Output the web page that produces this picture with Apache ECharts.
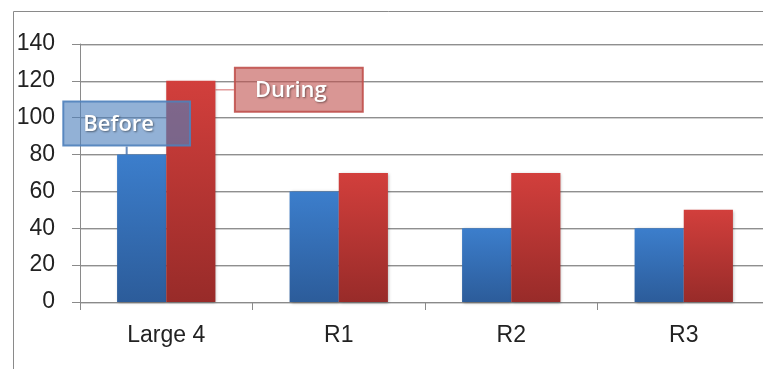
<!DOCTYPE html>
<html>
<head>
<meta charset="utf-8">
<script src="https://cdn.jsdelivr.net/npm/echarts@6/dist/echarts.min.js"></script>
<style>
  html, body { margin: 0; padding: 0; background: #fff; }
  #chart { width: 763px; height: 369px; }
</style>
</head>
<body>
<div id="chart"></div>
<script>
// Categories and values for the two phases
const categories = ['Large 4', 'R1', 'R2', 'R3'];
const beforeValues = [80, 60, 40, 40];
const duringValues = [120, 70, 70, 50];
const yTicks = { min: 0, max: 140, step: 20 };

const chart = echarts.init(document.getElementById('chart'), null, { renderer: 'canvas' });

const axisFont = { fontFamily: 'Liberation Sans, Arial, sans-serif', fontSize: 23, color: '#222' };

function vGrad(top, bottom) {
  return new echarts.graphic.LinearGradient(0, 0, 0, 1, [
    { offset: 0, color: top },
    { offset: 1, color: bottom }
  ]);
}

// Callout label shown on the first bar of each series
function callout(bg, border) {
  return {
    show: true,
    position: 'top',
    formatter: '{a}',
    color: '#fff',
    fontFamily: 'Open Sans, sans-serif',
    fontWeight: 600,
    fontSize: 22,
    lineHeight: 26,
    backgroundColor: bg,
    borderColor: border,
    borderWidth: 1,
    padding: [10, 36, 8, 20],
    textShadowColor: 'rgba(0,0,0,0.45)',
    textShadowBlur: 2,
    textShadowOffsetX: 1,
    textShadowOffsetY: 1
  };
}

const barShadow = {
  shadowBlur: 3,
  shadowColor: 'rgba(0,0,0,0.3)',
  shadowOffsetX: 1,
  shadowOffsetY: 1
};

chart.setOption({
  animation: false,
  graphic: [{
    type: 'rect',
    left: 11,
    top: 9,
    shape: { width: 800, height: 400 },
    style: { fill: 'none', stroke: '#8a8a8a', lineWidth: 1 },
    silent: true,
    z: 0
  }],
  // plot area runs slightly past the right edge of the canvas
  grid: { left: 80, top: 44, width: 690, height: 258, outerBoundsMode: 'none' },
  xAxis: {
    type: 'category',
    data: categories,
    axisLine: { lineStyle: { color: '#8a8a8a' } },
    axisTick: { show: true, length: 8, lineStyle: { color: '#8a8a8a' } },
    axisLabel: Object.assign({ margin: 22 }, axisFont)
  },
  yAxis: {
    type: 'value',
    min: yTicks.min,
    max: yTicks.max,
    interval: yTicks.step,
    axisLine: { show: true, lineStyle: { color: '#8a8a8a' } },
    axisTick: { show: true, length: 8, lineStyle: { color: '#8a8a8a' } },
    axisLabel: Object.assign({ margin: 25 }, axisFont),
    splitLine: {
      lineStyle: {
        color: '#8f8f8f',
        width: 1,
        shadowColor: 'rgba(0,0,0,0.18)',
        shadowBlur: 0,
        shadowOffsetY: 1
      }
    }
  },
  series: [
    {
      name: 'Before',
      type: 'bar',
      barGap: 0,
      barCategoryGap: '43%',
      itemStyle: Object.assign({ color: vGrad('#3c7ecc', '#2c5c9a') }, barShadow),
      data: beforeValues.map((v, i) => i === 0
        ? { value: v, label: callout('rgba(79,129,189,0.62)', 'rgba(79,129,189,0.9)') }
        : v),
      labelLayout: { dx: -15, dy: -4 },
      labelLine: { show: true, lineStyle: { color: 'rgba(40,90,160,0.7)', width: 2 } }
    },
    {
      name: 'During',
      type: 'bar',
      itemStyle: Object.assign({ color: vGrad('#d23f3c', '#982b29') }, barShadow),
      data: duringValues.map((v, i) => i === 0
        ? { value: v, label: callout('rgba(192,80,77,0.6)', 'rgba(192,80,77,0.9)') }
        : v),
      labelLayout: { dx: 108, dy: 36 },
      labelLine: { show: true, lineStyle: { color: 'rgba(200,70,70,0.8)', width: 1 } }
    }
  ]
});
</script>
</body>
</html>
